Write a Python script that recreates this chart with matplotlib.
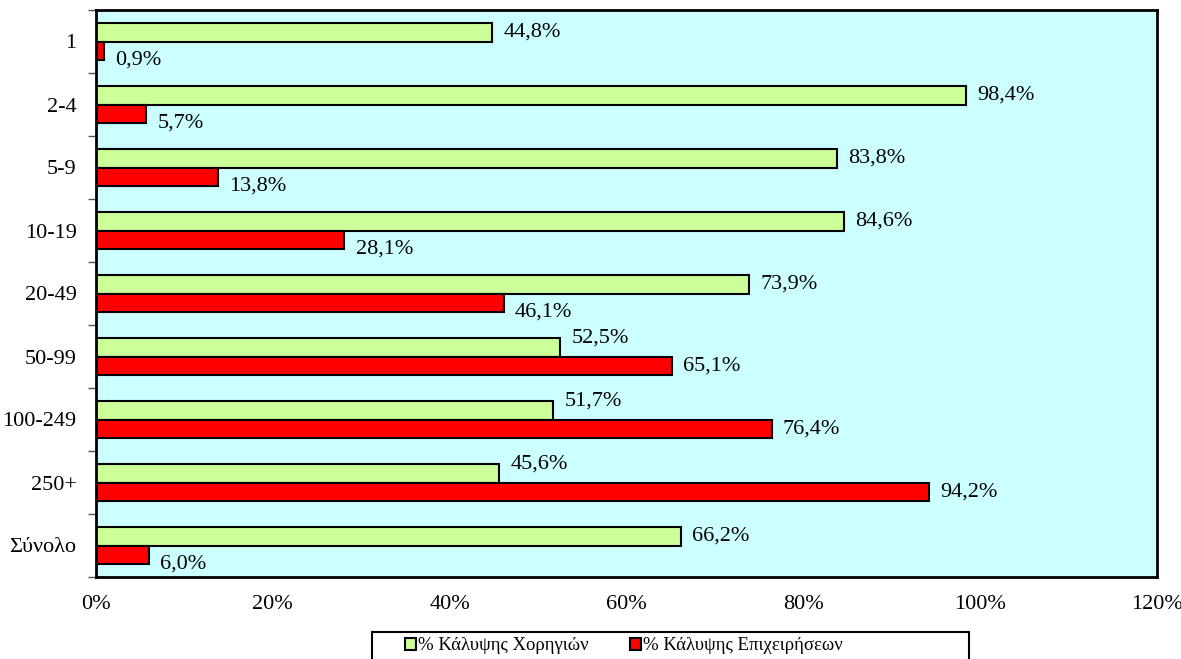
import numpy as np
import matplotlib.pyplot as plt
from matplotlib.patches import Rectangle
from matplotlib.ticker import FixedLocator, NullFormatter

plt.rcParams['font.family'] = ['Liberation Serif', 'DejaVu Serif']

# Data
categories = ['1', '2-4', '5-9', '10-19', '20-49', '50-99', '100-249', '250+', 'Σύνολο']
grants = [44.8, 98.4, 83.8, 84.6, 73.9, 52.5, 51.7, 45.6, 66.2]      # % Κάλυψης Χορηγιών
firms = [0.9, 5.7, 13.8, 28.1, 46.1, 65.1, 76.4, 94.2, 6.0]          # % Κάλυψης Επιχειρήσεων
labels = ['% Κάλυψης Χορηγιών', '% Κάλυψης Επιχειρήσεων']

# vertical label shifts (points) as seen in the original chart
green_dy = [0, 0, 0, 0, 0, 6.5, 6.5, 6.5, 0]
red_dy = [-6.5, -6.5, -6.5, -6.5, -6.5, 0, 0, 0, -6.5]

W, H = 1181, 659
fig = plt.figure(figsize=(W / 100, H / 100), dpi=100)
ax = fig.add_axes([96 / W, 1 - 577 / H, 1061 / W, 567 / H])
ax.set_facecolor('#CCFFFF')

y = np.arange(len(categories))
h = 0.293
ax.barh(y - h / 2, grants, height=h, color='#CCFF99', edgecolor='black', linewidth=1.5, label=labels[0])
ax.barh(y + h / 2, firms, height=h, color='#FF0000', edgecolor='black', linewidth=1.5, label=labels[1])

def fmt(v):
    return f'{v:.1f}%'.replace('.', ',')

for i in range(len(categories)):
    ax.annotate(fmt(grants[i]), (grants[i], y[i] - h / 2), xytext=(8, green_dy[i]),
                textcoords='offset points', va='center', ha='left', fontsize=16)
    ax.annotate(fmt(firms[i]), (firms[i], y[i] + h / 2), xytext=(8, red_dy[i]),
                textcoords='offset points', va='center', ha='left', fontsize=16)

ax.set_xlim(0, 120)
ax.set_ylim(len(categories) - 0.5, -0.5)
ax.set_xticks(np.arange(0, 121, 20))
ax.set_xticklabels([f'{t}%' for t in range(0, 121, 20)], fontsize=16)
ax.tick_params(axis='x', length=0, pad=13)

# ticks at group boundaries, labels at group centres
ax.yaxis.set_major_locator(FixedLocator(np.arange(-0.5, len(categories), 1)))
ax.yaxis.set_major_formatter(NullFormatter())
ax.yaxis.set_minor_locator(FixedLocator(y))
ax.set_yticklabels(categories, minor=True, fontsize=16)
ax.tick_params(axis='y', which='major', length=6, width=1, color='#555555')
ax.tick_params(axis='y', which='minor', length=0, pad=14)

for s in ax.spines.values():
    s.set_linewidth(2)

# legend box (Excel style, runs off the bottom edge)
fig.patches.append(Rectangle((372 / W, -0.05), 597 / W, 0.05 + 1 - 632 / H,
                             transform=fig.transFigure, facecolor='white',
                             edgecolor='black', linewidth=1.5))
fig.legend(loc='center left', bbox_to_anchor=(405 / W, 1 - 646 / H),
           ncol=2, fontsize=13.5, frameon=False, handlelength=0.6, handleheight=0.6,
           handletextpad=0.1, columnspacing=2.2, borderaxespad=0, borderpad=0)

plt.savefig('out.png', dpi=100)
